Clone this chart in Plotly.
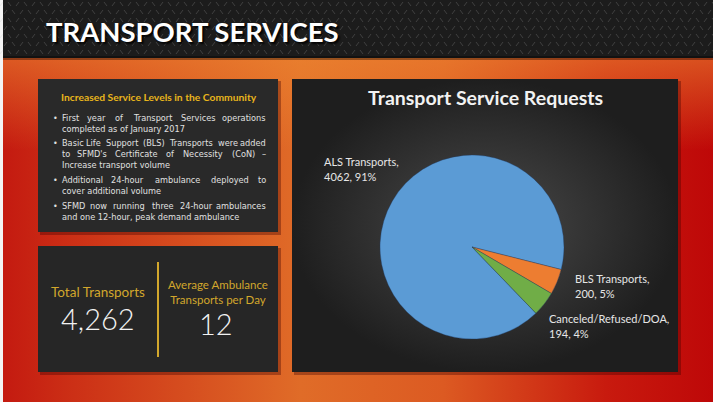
import plotly.graph_objects as go

# ---- data ----
slide_title = "TRANSPORT SERVICES"
chart_title = "Transport Service Requests"
categories = ["ALS Transports", "BLS Transports", "Canceled/Refused/DOA"]
values = [4062, 200, 194]
percents = [91, 5, 4]
slice_colors = ["#5b9bd5", "#ed7d31", "#70ad47"]

box_heading = "Increased Service Levels in the Community"
bullets = [
    ["First year of Transport Services operations", "completed as of January 2017"],
    ["Basic Life Support (BLS) Transports were added",
     "to SFMD's Certificate of Necessity (CoN) \u2013", "Increase transport volume"],
    ["Additional 24-hour ambulance deployed to", "cover additional volume"],
    ["SFMD now running three 24-hour ambulances", "and one 12-hour, peak demand ambulance"],
]
total_label = "Total Transports"
total_transports = 4262
avg_label = ["Average Ambulance", "Transports per Day"]
avg_per_day = 12

W, H = 713, 402
GOLD = "#d2a72c"
FONT = "Lato"
BODY_FONT = "DejaVu Sans"
BODY_SIZE = 8.2

fig = go.Figure()


def rect(x0, y0, x1, y1, color):
    fig.add_trace(go.Scatter(x=[x0, x1, x1, x0, x0], y=[y0, y0, y1, y1, y0],
                             mode="lines", fill="toself", fillcolor=color,
                             line=dict(width=0), hoverinfo="skip", showlegend=False))


# orange / red backdrop
fig.add_trace(go.Scatter(
    x=[3, W, W, 3, 3], y=[58, 58, H, H, 58], mode="lines", fill="toself",
    line=dict(width=0), hoverinfo="skip", showlegend=False,
    fillgradient=dict(type="horizontal", colorscale=[
        [0, "#c41a10"], [0.1, "#cc3016"], [0.42, "#e06c28"], [0.62, "#dc5a22"],
        [0.85, "#c81a0e"], [1, "#be0808"]])))
fig.add_trace(go.Scatter(
    x=[3, W, W, 3, 3], y=[58, 58, 150, 150, 58], mode="lines", fill="toself",
    line=dict(width=0), hoverinfo="skip", showlegend=False,
    fillgradient=dict(type="vertical", start=58, stop=150, colorscale=[
        [0, "rgba(240,140,50,0.55)"], [1, "rgba(240,140,50,0)"]])))

# dark diamond-plate band
rect(3, 0, W, 58, "#1c1c1c")
px, py = [], []
for r, yy in enumerate(range(2, 58, 8)):
    off = 0 if r % 2 == 0 else 4
    for k, xx in enumerate(range(off, W, 8)):
        if k % 2 == 0:
            px += [xx, xx + 3, None]
            py += [yy + 4, yy, None]
        else:
            px += [xx, xx + 3, None]
            py += [yy, yy + 4, None]
fig.add_trace(go.Scatter(x=px, y=py, mode="lines",
                         line=dict(color="rgba(190,190,190,0.22)", width=1),
                         hoverinfo="skip", showlegend=False))
rect(3, 56, W, 60, "rgba(0,0,0,0.35)")

# panels with soft shadow
for (x0, y0, x1, y1) in [(38, 79, 278, 232), (38, 246, 278, 372), (292, 79, 678, 372)]:
    rect(x0 + 2, y0 + 2, x1 + 3, y1 + 3, "rgba(60,0,0,0.35)")
rect(38, 79, 278, 232, "#292929")
rect(38, 246, 278, 372, "#262626")
fig.add_trace(go.Scatter(
    x=[292, 678, 678, 292, 292], y=[79, 79, 372, 372, 79], mode="lines", fill="toself",
    line=dict(width=0), hoverinfo="skip", showlegend=False,
    fillgradient=dict(type="radial", colorscale=[[0, "#4b4b4b"], [0.6, "#303030"], [1, "#1e1e1e"]])))

# gold divider
fig.add_trace(go.Scatter(x=[158, 158], y=[262, 357], mode="lines",
                         line=dict(color=GOLD, width=2), hoverinfo="skip", showlegend=False))

# pie
cx, cy, rad = 472, 247, 92
fig.add_trace(go.Pie(
    labels=categories, values=values, sort=False, direction="clockwise",
    rotation=136, textinfo="none", hoverinfo="label+value+percent",
    marker=dict(colors=slice_colors, line=dict(color="rgba(30,60,100,0.6)", width=0.6)),
    domain=dict(x=[(cx - rad) / W, (cx + rad) / W],
                y=[(H - cy - rad) / H, (H - cy + rad) / H]),
    showlegend=False))

ann = []


def txt(x, y, s, size, color, anchor="left", bold=False, shadow="none", family=FONT, weight=None):
    ann.append(dict(x=x, y=y, xref="x", yref="y", text=s, showarrow=False,
                    xanchor=anchor, yanchor="middle",
                    font=dict(family=family, size=size, color=color,
                              weight=weight or ("bold" if bold else "normal"), shadow=shadow)))


txt(44, 31, slide_title, 27.5, "#ffffff", bold=True, shadow="2px 2px 2px rgba(0,0,0,0.9)")
txt(485, 97, chart_title, 19.5, "#f2f2f2", anchor="center", bold=True)

# pie labels
label_pos = [(322, 161), (573, 278), (547, 318)]
for (lx, ly), name, v, p in zip(label_pos, categories, values, percents):
    txt(lx, ly, f"{name},", 11, "#e6e6e6")
    txt(lx, ly + 15, f"{v}, {p}%", 11, "#e6e6e6")

# rough DejaVu Sans advance widths (em)
EM = {" ": .318, "a": .613, "b": .635, "c": .55, "d": .635, "e": .615, "f": .352, "g": .635,
      "h": .634, "i": .278, "j": .278, "k": .579, "l": .278, "m": .974, "n": .634, "o": .612,
      "p": .635, "q": .635, "r": .411, "s": .521, "t": .392, "u": .634, "v": .592, "w": .818,
      "x": .592, "y": .592, "z": .525, "(": .39, ")": .39, "-": .361, "'": .275, ",": .318,
      ".": .318, "\u2013": .5, "I": .295, "M": .863, "N": .748, "D": .77, "C": .698, "B": .686,
      "A": .684, "S": .635, "T": .611, "F": .575, "L": .557}


def wpx(word):
    return sum(EM.get(ch, .64) for ch in word) * BODY_SIZE * 0.97


# left text box (justified lines: words spread between both margins)
txt(159, 97, box_heading, 10.3, "#e8b51c", anchor="center", bold=True)
line_y = [[118, 129], [143, 154, 165], [180, 191], [206, 217]]
LX, RX = 60, 268
for lines, ys in zip(bullets, line_y):
    txt(51, ys[0], "\u2022", 8, "#e0e0e0", family=BODY_FONT)
    for i, (line, yy) in enumerate(zip(lines, ys)):
        words = line.split(" ")
        widths = [wpx(w) for w in words]
        gap = (RX - LX - sum(widths)) / max(len(words) - 1, 1)
        if i == len(lines) - 1 or len(words) < 2 or gap < 3:
            txt(LX, yy, line, BODY_SIZE, "#e0e0e0", family=BODY_FONT)
            continue
        xpos = LX
        for j, (w, ww) in enumerate(zip(words, widths)):
            if j == 0:
                txt(LX, yy, w, BODY_SIZE, "#e0e0e0", family=BODY_FONT)
            elif j == len(words) - 1:
                txt(RX, yy, w, BODY_SIZE, "#e0e0e0", anchor="right", family=BODY_FONT)
            else:
                txt(xpos + ww / 2, yy, w, BODY_SIZE, "#e0e0e0", anchor="center", family=BODY_FONT)
            xpos += ww + gap

# stats box
txt(98, 292, total_label, 13.5, GOLD, anchor="center")
txt(98, 318, f"{total_transports:,}", 29, "#f2f2f2", anchor="center", weight=300)
txt(218, 291.5, "<br>".join(avg_label), 11.5, GOLD, anchor="center")
txt(216, 323, str(avg_per_day), 29, "#f2f2f2", anchor="center", weight=300)

fig.update_layout(
    width=W, height=H, margin=dict(l=0, r=0, t=0, b=0),
    paper_bgcolor="#f4f4f4", plot_bgcolor="rgba(0,0,0,0)",
    xaxis=dict(range=[0, W], visible=False, fixedrange=True),
    yaxis=dict(range=[H, 0], visible=False, fixedrange=True),
    annotations=ann, showlegend=False,
)

fig.write_html("out.html", config={"displayModeBar": False},
               post_script="document.body.style.margin='0';")
